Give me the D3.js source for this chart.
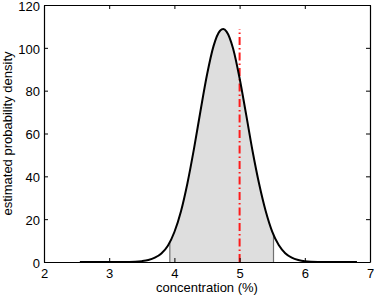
<!DOCTYPE html>
<html>
<head>
<meta charset="utf-8">
<script src="https://cdn.jsdelivr.net/npm/d3@7"></script>
<style>
  html, body { margin: 0; padding: 0; background: #fff; }
  svg { display: block; font-family: "Liberation Sans", Arial, sans-serif; }
</style>
</head>
<body>
<svg id="chart" width="374" height="297"></svg>
<script>
// Data
const concentration = [2.55, 3.0, 3.2, 3.4, 3.5, 3.6, 3.7, 3.8, 3.9, 4.0, 4.1, 4.2, 4.3, 4.4, 4.5, 4.6, 4.7, 4.75, 4.8, 4.9, 5.0, 5.1, 5.2, 5.3, 5.4, 5.5, 5.6, 5.7, 5.8, 5.9, 6.0, 6.2, 6.5, 6.8];
const density = [0, 0, 0.02, 0.15, 0.4, 0.9, 2.0, 4.0, 7.6, 14.0, 23.6, 36.8, 52.8, 70.5, 87.4, 100.8, 108.0, 108.8, 107.6, 99.7, 85.8, 68.9, 51.6, 36.4, 23.8, 14.2, 7.9, 4.1, 2.0, 0.9, 0.35, 0.05, 0, 0];
const intervalBounds = [3.93, 5.52];
const referenceValue = [5];
const xTicks = [2, 3, 4, 5, 6, 7];
const yTicks = [0, 20, 40, 60, 80, 100, 120];
const xDomain = [2, 7];
const yDomain = [0, 120];
const xLabel = "concentration (%)";
const yLabel = "estimated probability density";

const svg = d3.select("#chart");
const L = 44, R = 370, T = 5, B = 262;

const x = d3.scaleLinear().domain(xDomain).range([L, R]);
const y = d3.scaleLinear().domain(yDomain).range([B, T]);

const pts = concentration.map((c, i) => [c, density[i]]);
const curve = d3.curveMonotoneX;

const area = d3.area().x(d => x(d[0])).y0(y(0)).y1(d => y(d[1])).curve(curve);
const line = d3.line().x(d => x(d[0])).y(d => y(d[1])).curve(curve);

const defs = svg.append("defs");
defs.append("clipPath").attr("id", "intervalClip")
  .append("rect")
  .attr("x", x(intervalBounds[0])).attr("y", T)
  .attr("width", x(intervalBounds[1]) - x(intervalBounds[0]))
  .attr("height", B - T);
defs.append("clipPath").attr("id", "underCurve")
  .append("path").attr("d", area(pts));

// shaded interval
svg.append("path")
  .attr("d", area(pts))
  .attr("fill", "#dedede")
  .attr("clip-path", "url(#intervalClip)");

// interval boundary lines
svg.append("g").attr("clip-path", "url(#underCurve)")
  .selectAll("line").data(intervalBounds).join("line")
  .attr("x1", d => x(d)).attr("x2", d => x(d))
  .attr("y1", y(0)).attr("y2", T)
  .attr("stroke", "#707070").attr("stroke-width", 1.2);

// reference red dash-dot line
svg.selectAll("line.ref").data(referenceValue).join("line")
  .attr("class", "ref")
  .attr("x1", d => x(d)).attr("x2", d => x(d))
  .attr("y1", y(0)).attr("y2", y(d3.max(density)))
  .attr("stroke", "#ff1a1a").attr("stroke-width", 2)
  .attr("stroke-dasharray", "8,3,1.5,3");

// density curve
svg.append("path")
  .attr("d", line(pts))
  .attr("fill", "none")
  .attr("stroke", "#000")
  .attr("stroke-width", 2)
  .attr("stroke-linejoin", "round");

// axes (box with inward ticks)
const tickLen = 4;
const axB = svg.append("g").attr("transform", `translate(0,${B})`)
  .call(d3.axisBottom(x).tickValues(xTicks).tickFormat(d3.format("d")).tickSizeInner(-tickLen).tickSizeOuter(0).tickPadding(7));
const axT = svg.append("g").attr("transform", `translate(0,${T})`)
  .call(d3.axisTop(x).tickValues(xTicks).tickFormat("").tickSizeInner(-tickLen).tickSizeOuter(0));
const axL = svg.append("g").attr("transform", `translate(${L},0)`)
  .call(d3.axisLeft(y).tickValues(yTicks).tickFormat(d3.format("d")).tickSizeInner(-tickLen).tickSizeOuter(0).tickPadding(7));
const axR = svg.append("g").attr("transform", `translate(${R},0)`)
  .call(d3.axisRight(y).tickValues(yTicks).tickFormat("").tickSizeInner(-tickLen).tickSizeOuter(0));

[axB, axT, axL, axR].forEach(g => {
  g.selectAll(".domain").attr("stroke", "#000").attr("stroke-width", 1.2);
  g.selectAll(".tick line").attr("stroke", "#000").attr("stroke-width", 1);
  g.selectAll("text").attr("font-size", 13).attr("fill", "#000")
    .attr("font-family", "'Liberation Sans', Arial, sans-serif");
});
axB.selectAll(".tick text").attr("dy", "0.71em");
axL.selectAll(".tick text").attr("x", -4).attr("dy", "0.4em");

// labels
svg.append("text")
  .attr("x", (L + R) / 2).attr("y", 292)
  .attr("text-anchor", "middle")
  .attr("font-size", 13)
  .text(xLabel);
svg.append("text")
  .attr("transform", `translate(12,${(T + B) / 2}) rotate(-90)`)
  .attr("text-anchor", "middle")
  .attr("font-size", 13)
  .text(yLabel);
</script>
</body>
</html>
